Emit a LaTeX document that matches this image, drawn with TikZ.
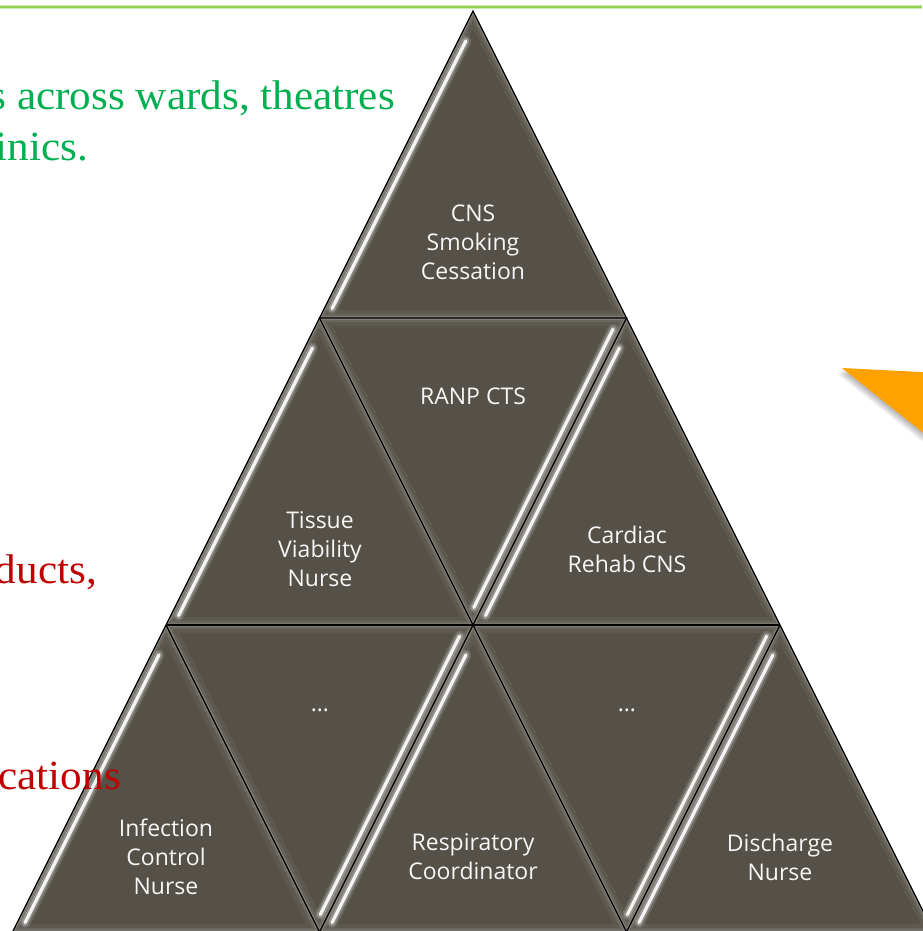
\documentclass[tikz,border=0pt]{standalone}
\usepackage{fontspec}
\setmainfont{Open Sans}
\newfontfamily\serifface[FakeStretch=1.04]{Liberation Serif}
\definecolor{slate}{RGB}{85,81,72}
\definecolor{leaf}{RGB}{146,208,80}
\definecolor{accentgreen}{RGB}{0,176,80}
\definecolor{accentred}{RGB}{192,0,0}
\definecolor{amber}{RGB}{255,162,0}

\tikzset{
  tribody/.style={fill=slate},
  rimwide/.style={draw=white, draw opacity=0.05, line width=16pt},
  rimmid/.style={draw=white, draw opacity=0.08, line width=8pt},
  rimthin/.style={draw=white, draw opacity=0.16, line width=3.5pt},
  glowwide/.style={draw=white, draw opacity=0.12, line width=11pt, line cap=round},
  glowstripe/.style={draw=white, draw opacity=0.25, line width=7pt, line cap=round},
  stripe/.style={draw=white, draw opacity=0.9, line width=3.2pt, line cap=round},
  edgeline/.style={draw=black, line width=1.2pt, line join=miter},
  lbl/.style={text=white!95!slate, font=\fontsize{23}{29}\selectfont, align=center, inner sep=0pt},
  prose/.style={font=\serifface\fontsize{41.5}{50}\selectfont, inner sep=0pt, anchor=base east}
}

% rim shading shared by both triangle orientations
\newcommand\bevelrim[3]{%
  \draw[rimwide] (#1) -- (#2) -- (#3) -- cycle;
  \draw[rimmid] (#1) -- (#2) -- (#3) -- cycle;
  \draw[rimthin] (#1) -- (#2) -- (#3) -- cycle;}

% soft highlight band between two points
\newcommand\highlight[4]{%
  \draw[glowwide, shorten <=#3, shorten >=#4] (#1) -- (#2);
  \draw[glowstripe, shorten <=#3, shorten >=#4] (#1) -- (#2);
  \draw[stripe, shorten <=#3, shorten >=#4] (#1) -- (#2);}

% upward tile: apex, bottom-left, bottom-right
\newcommand\uptile[3]{%
  \fill[tribody] (#1) -- (#2) -- (#3) -- cycle;
  \begin{scope}
    \clip (#1) -- (#2) -- (#3) -- cycle;
    \bevelrim{#1}{#2}{#3}
    \highlight{$(#2)+(6.3,3.1)$}{$(#1)+(6.3,3.1)$}{14pt}{30pt}
  \end{scope}}

% downward tile: top-left, top-right, bottom
\newcommand\downtile[3]{%
  \fill[tribody] (#1) -- (#2) -- (#3) -- cycle;
  \begin{scope}
    \clip (#1) -- (#2) -- (#3) -- cycle;
    \bevelrim{#1}{#2}{#3}
    \highlight{$(#3)+(-6.3,-3.1)$}{$(#2)+(-6.3,-3.1)$}{16pt}{16pt}
  \end{scope}}

\usetikzlibrary{calc}

\begin{document}
\begin{tikzpicture}[x=1pt,y=-1pt]
\useasboundingbox (0,0) rectangle (922,931);
\fill[white] (0,0) rectangle (922,931);

% rule along the top
\draw[leaf!45, line width=4pt] (0,7.3) -- (922,7.3);
\draw[leaf, line width=1.8pt] (0,7.3) -- (922,7.3);

% orange pointer with soft shadow
\foreach \k in {1,...,5}
  \fill[black, opacity=0.06] ([shift={(-0.9*\k,1.2*\k)}]842,368) -- ([shift={(-0.9*\k,1.2*\k)}]1000,376) -- ([shift={(-0.9*\k,1.2*\k)}]1000,494) -- cycle;
\fill[amber] (842,368) -- (1000,376) -- (1000,494) -- cycle;

% lattice points of the pyramid
\coordinate (a)  at (473,11);
\coordinate (b1) at (319.5,318);
\coordinate (b2) at (626.5,318);
\coordinate (c1) at (166,625);
\coordinate (c2) at (473,625);
\coordinate (c3) at (780,625);
\coordinate (d1) at (12.5,932);
\coordinate (d2) at (319.5,932);
\coordinate (d3) at (626.5,932);
\coordinate (d4) at (933.5,932);

% tiles
\uptile{a}{b1}{b2}
\uptile{b1}{c1}{c2}
\downtile{b1}{b2}{c2}
\uptile{b2}{c2}{c3}
\uptile{c1}{d1}{d2}
\downtile{c1}{c2}{d2}
\uptile{c2}{d2}{d3}
\downtile{c2}{c3}{d3}
\uptile{c3}{d3}{d4}

% tile outlines
\draw[edgeline] (a) -- (d1) -- (d4) -- cycle;
\draw[edgeline] (b1) -- (b2) -- (c2) -- cycle;
\draw[edgeline] (c1) -- (c3);
\draw[edgeline] (c1) -- (d2) -- (c2) -- (d3) -- (c3);

% tile labels
\node[lbl] (cns)  at (473,242) {CNS\\Smoking\\Cessation};
\node[lbl] (ranp) at (473,396) {RANP CTS};
\node[lbl] (tvn)  at (320,549) {Tissue\\Viability\\Nurse};
\node[lbl] (crc)  at (627,549) {Cardiac\\Rehab CNS};
\node[lbl, anchor=base] (gapl) at (320,711) {…};
\node[lbl, anchor=base] (gapr) at (627,711) {…};
\node[lbl] (icn)  at (166,857) {Infection\\Control\\Nurse};
\node[lbl] (resp) at (473,857) {Respiratory\\Coordinator};
\node[lbl] (dis)  at (780,857) {Discharge\\Nurse};

% running text at the left
\node[prose, text=accentgreen] (g1) at (395,110) {s across wards, theatres};
\node[prose, text=accentgreen] (g2) at (88,160) {inics.};
\node[prose, text=accentred] (r1) at (97,583) {ducts,};
\node[prose, text=accentred] (r2) at (121,789) {cations};
\end{tikzpicture}
\end{document}
